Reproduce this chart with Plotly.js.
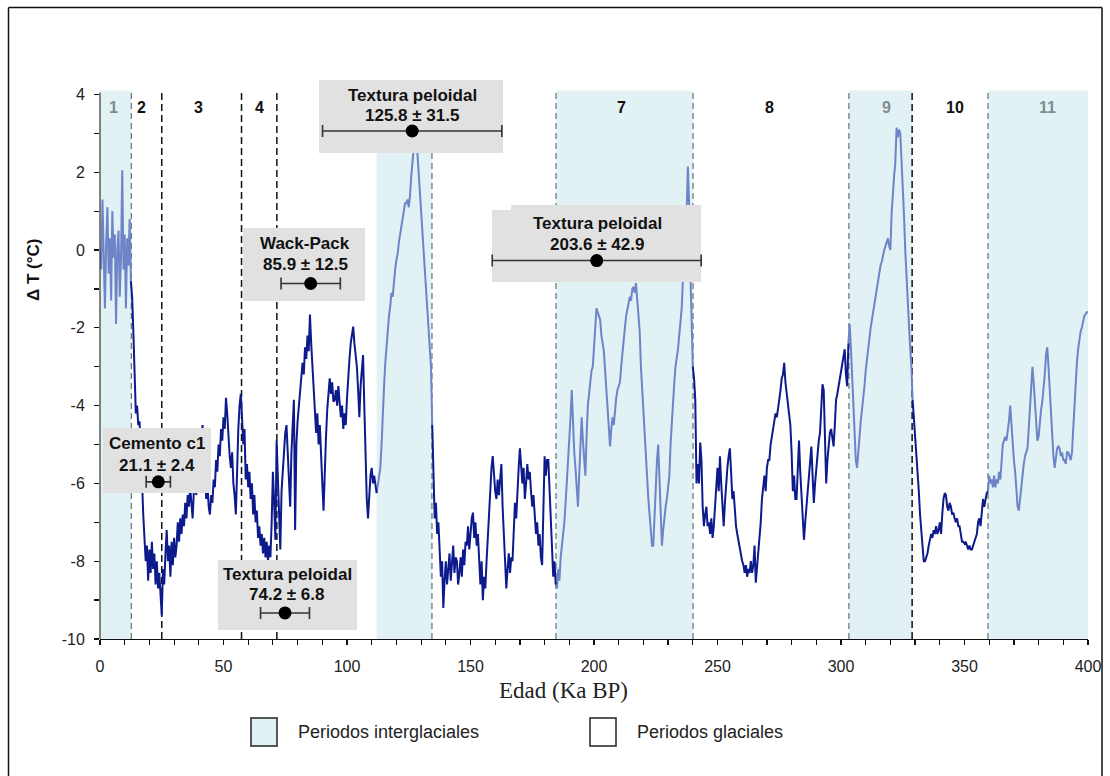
<!DOCTYPE html>
<html><head><meta charset="utf-8">
<script src="https://cdn.plot.ly/plotly-3.0.1.min.js"></script>
<style>html,body{margin:0;padding:0;background:#fff;}#chart{width:1110px;height:776px;}</style>
</head><body><div id="chart"></div>
<script>
// ---- Data ----
const ageKa = [
0,0.5,1,1.5,2,2.5,3,3.5,4,4.5,5,5.5,6,6.5,7,7.5,8,8.5,9,9.5,
10,10.5,11,11.5,12,12.5,13,13.5,14,14.5,15,15.5,16,16.5,17,17.5,18,18.5,19,19.5,
20,20.5,21,21.5,22,22.5,23,23.5,24,24.5,25,25.5,26,26.5,27,27.5,28,28.5,29,29.5,
30,30.5,31,31.5,32,32.5,33,33.5,34,34.5,35,35.5,36,36.5,37,37.5,38,38.5,39,39.5,
40,40.5,41,41.5,42,42.5,43,43.5,44,44.5,45,45.5,46,46.5,47,47.5,48,48.5,49,49.5,
50,50.5,51,51.5,52,52.5,53,53.5,54,54.5,55,55.5,56,56.5,57,57.5,58,58.5,59,59.5,
60,60.5,61,61.5,62,62.5,63,63.5,64,64.5,65,65.5,66,66.5,67,67.5,68,68.5,69,69.5,
70,70.5,71,71.5,72,72.5,73,73.5,74,74.5,75,75.5,76,76.5,77,77.5,78,78.5,79,79.5,
80,80.5,81,81.5,82,82.5,83,83.5,84,84.5,85,85.5,86,86.5,87,87.5,88,88.5,89,89.5,
90,90.5,91,91.5,92,92.5,93,93.5,94,94.5,95,95.5,96,96.5,97,97.5,98,98.5,99,99.5,
100,100.5,101,101.5,102,102.5,103,103.5,104,104.5,105,105.5,106,106.5,107,107.5,108,108.5,109,109.5,
110,110.5,111,111.5,112,112.5,113,113.5,114,114.5,115,115.5,116,116.5,117,117.5,118,118.5,119,119.5,
120,120.5,121,121.5,122,122.5,123,123.5,124,124.5,125,125.5,126,126.5,127,127.5,128,128.5,129,129.5,
130,130.5,131,131.5,132,132.5,133,133.5,134,134.5,135,135.5,136,136.5,137,137.5,138,138.5,139,139.5,
140,140.5,141,141.5,142,142.5,143,143.5,144,144.5,145,145.5,146,146.5,147,147.5,148,148.5,149,149.5,
150,150.5,151,151.5,152,152.5,153,153.5,154,154.5,155,155.5,156,156.5,157,157.5,158,158.5,159,159.5,
160,160.5,161,161.5,162,162.5,163,163.5,164,164.5,165,165.5,166,166.5,167,167.5,168,168.5,169,169.5,
170,170.5,171,171.5,172,172.5,173,173.5,174,174.5,175,175.5,176,176.5,177,177.5,178,178.5,179,179.5,
180,180.5,181,181.5,182,182.5,183,183.5,184,184.5,185,185.5,186,186.5,187,187.5,188,188.5,189,189.5,
190,190.5,191,191.5,192,192.5,193,193.5,194,194.5,195,195.5,196,196.5,197,197.5,198,198.5,199,199.5,
200,200.5,201,201.5,202,202.5,203,203.5,204,204.5,205,205.5,206,206.5,207,207.5,208,208.5,209,209.5,
210,210.5,211,211.5,212,212.5,213,213.5,214,214.5,215,215.5,216,216.5,217,217.5,218,218.5,219,219.5,
220,220.5,221,221.5,222,222.5,223,223.5,224,224.5,225,225.5,226,226.5,227,227.5,228,228.5,229,229.5,
230,230.5,231,231.5,232,232.5,233,233.5,234,234.5,235,235.5,236,236.5,237,237.5,238,238.5,239,239.5,
240,240.5,241,241.5,242,242.5,243,243.5,244,244.5,245,245.5,246,246.5,247,247.5,248,248.5,249,249.5,
250,250.5,251,251.5,252,252.5,253,253.5,254,254.5,255,255.5,256,256.5,257,257.5,258,258.5,259,259.5,
260,260.5,261,261.5,262,262.5,263,263.5,264,264.5,265,265.5,266,266.5,267,267.5,268,268.5,269,269.5,
270,270.5,271,271.5,272,272.5,273,273.5,274,274.5,275,275.5,276,276.5,277,277.5,278,278.5,279,279.5,
280,280.5,281,281.5,282,282.5,283,283.5,284,284.5,285,285.5,286,286.5,287,287.5,288,288.5,289,289.5,
290,290.5,291,291.5,292,292.5,293,293.5,294,294.5,295,295.5,296,296.5,297,297.5,298,298.5,299,299.5,
300,300.5,301,301.5,302,302.5,303,303.5,304,304.5,305,305.5,306,306.5,307,307.5,308,308.5,309,309.5,
310,310.5,311,311.5,312,312.5,313,313.5,314,314.5,315,315.5,316,316.5,317,317.5,318,318.5,319,319.5,
320,320.5,321,321.5,322,322.5,323,323.5,324,324.5,325,325.5,326,326.5,327,327.5,328,328.5,329,329.5,
330,330.5,331,331.5,332,332.5,333,333.5,334,334.5,335,335.5,336,336.5,337,337.5,338,338.5,339,339.5,
340,340.5,341,341.5,342,342.5,343,343.5,344,344.5,345,345.5,346,346.5,347,347.5,348,348.5,349,349.5,
350,350.5,351,351.5,352,352.5,353,353.5,354,354.5,355,355.5,356,356.5,357,357.5,358,358.5,359,359.5,
360,360.5,361,361.5,362,362.5,363,363.5,364,364.5,365,365.5,366,366.5,367,367.5,368,368.5,369,369.5,
370,370.5,371,371.5,372,372.5,373,373.5,374,374.5,375,375.5,376,376.5,377,377.5,378,378.5,379,379.5,
380,380.5,381,381.5,382,382.5,383,383.5,384,384.5,385,385.5,386,386.5,387,387.5,388,388.5,389,389.5,
390,390.5,391,391.5,392,392.5,393,393.5,394,394.5,395,395.5,396,396.5,397,397.5,398,398.5,399,399.5,
400];

const deltaT = [
0.0,-0.5,1.3,-0.3,-1.5,0.2,1.1,-0.6,0.3,-1.3,
1.0,-0.2,0.4,-1.9,0.0,0.5,-1.2,-0.2,2.05,-0.5,
0.4,-1.5,0.3,-0.4,0.8,-0.8,-1.2,-2.1,-3.0,-4.2,
-4.0,-4.5,-4.4,-5.0,-5.9,-6.8,-7.5,-8.0,-7.6,-8.5,
-7.7,-8.3,-7.5,-8.2,-7.8,-8.6,-8.0,-8.7,-8.3,-9.0,
-9.4,-8.2,-8.6,-7.8,-7.2,-8.0,-7.6,-8.4,-7.5,-8.1,
-7.4,-7.9,-7.6,-7.0,-7.5,-6.9,-7.3,-6.8,-7.1,-6.5,
-6.9,-6.3,-6.6,-6.1,-6.5,-6.9,-6.2,-5.8,-6.3,-5.3,
-5.8,-4.9,-5.4,-4.5,-5.0,-5.9,-6.4,-6.0,-6.6,-6.8,
-6.3,-6.5,-5.9,-6.1,-5.4,-5.7,-5.0,-5.3,-4.6,-4.9,
-4.3,-4.6,-3.8,-4.2,-4.8,-5.3,-5.6,-5.2,-6.0,-6.3,
-6.8,-5.5,-4.6,-4.0,-3.7,-4.3,-5.0,-4.6,-5.9,-5.5,
-6.1,-5.7,-6.4,-6.0,-6.8,-6.3,-7.0,-6.7,-7.4,-7.1,
-7.6,-7.3,-7.8,-7.4,-7.9,-7.5,-8.0,-7.6,-7.9,-7.0,
-5.7,-6.5,-7.45,-4.9,-6.0,-7.0,-7.7,-6.2,-5.65,-5.0,
-4.7,-4.5,-5.2,-6.0,-6.6,-5.2,-4.3,-3.85,-7.2,-5.0,
-4.4,-4.0,-3.7,-3.4,-2.9,-3.2,-2.5,-2.8,-2.2,-2.6,
-1.66,-2.4,-3.0,-3.6,-4.0,-4.7,-4.2,-5.0,-4.5,-5.5,
-6.0,-6.7,-5.6,-4.8,-4.1,-3.6,-3.3,-3.7,-3.4,-3.9,
-3.85,-3.6,-4.0,-3.5,-3.9,-4.3,-4.0,-4.6,-4.2,-4.5,
-3.8,-3.2,-2.8,-2.4,-2.2,-1.97,-2.4,-2.7,-3.0,-3.6,
-4.3,-3.5,-3.0,-2.7,-4.0,-5.5,-6.4,-6.9,-6.3,-5.8,
-5.6,-6.0,-5.8,-6.1,-6.25,-6.0,-5.7,-5.6,-5.0,-4.1,
-3.5,-2.9,-2.4,-2.0,-1.7,-1.45,-1.1,-1.2,-0.8,-0.5,
-0.25,-0.1,0.2,0.4,0.6,0.8,1.0,1.2,1.2,1.3,
1.1,1.4,1.9,2.4,2.6,2.9,2.8,2.5,2.0,1.5,
0.96,0.4,-0.2,-0.7,-1.2,-1.8,-2.3,-2.7,-3.0,-4.5,
-5.5,-6.9,-6.5,-7.3,-7.0,-7.8,-8.4,-8.0,-9.2,-8.5,
-8.0,-8.6,-8.2,-7.8,-8.5,-8.0,-7.6,-8.3,-7.9,-8.0,
-8.6,-8.3,-7.9,-8.4,-7.7,-8.1,-7.5,-7.6,-7.1,-7.7,
-7.2,-6.9,-6.75,-7.4,-7.0,-7.6,-7.3,-8.2,-8.6,-8.0,
-9.0,-8.4,-8.7,-8.0,-7.3,-6.6,-6.0,-5.6,-5.3,-5.9,
-6.2,-6.4,-5.9,-6.3,-5.8,-5.5,-6.6,-7.4,-8.1,-8.7,
-8.2,-7.8,-8.3,-7.9,-8.0,-7.2,-6.5,-6.9,-6.0,-5.6,
-5.1,-5.7,-6.0,-5.6,-6.4,-6.0,-5.5,-5.9,-5.7,-6.2,
-6.6,-6.3,-6.9,-7.3,-7.0,-7.6,-7.3,-7.9,-8.1,-6.5,
-5.3,-5.8,-5.4,-5.4,-6.2,-7.0,-7.9,-8.4,-8.0,-8.6,
-8.7,-8.2,-8.5,-7.9,-7.6,-7.45,-7.0,-6.5,-6.0,-5.4,
-4.7,-4.3,-3.6,-4.6,-5.2,-5.6,-6.0,-6.6,-5.8,-5.0,
-4.3,-4.9,-5.5,-5.8,-4.8,-4.0,-3.7,-3.4,-3.1,-3.0,
-2.6,-2.0,-1.5,-1.6,-1.7,-1.8,-2.2,-2.4,-2.6,-3.1,
-3.6,-4.2,-4.7,-5.05,-4.6,-4.3,-4.5,-4.1,-3.8,-3.6,
-3.5,-3.4,-3.0,-2.6,-2.3,-2.0,-1.7,-1.5,-1.4,-1.2,
-1.3,-1.0,-0.95,-1.1,-0.85,-1.3,-1.7,-2.1,-3.0,-3.6,
-4.3,-4.9,-5.5,-6.0,-6.4,-6.8,-7.2,-7.6,-7.6,-6.8,
-6.0,-5.4,-5.0,-5.8,-6.8,-7.6,-7.2,-6.8,-6.6,-6.4,
-6.0,-5.8,-5.0,-4.4,-3.85,-3.4,-3.0,-2.8,-2.55,-2.2,
-1.8,-1.5,-0.76,-0.2,0.4,0.96,2.15,1.2,-0.5,-1.8,
-3.0,-3.3,-3.85,-6.0,-5.5,-6.0,-4.95,-5.4,-6.6,-7.1,
-6.8,-6.6,-7.1,-7.0,-7.3,-6.9,-7.4,-7.1,-6.6,-6.0,
-5.6,-6.2,-5.3,-6.0,-6.6,-7.1,-6.5,-5.9,-5.6,-5.3,
-5.1,-5.7,-6.4,-6.2,-6.8,-7.1,-7.3,-7.5,-7.7,-7.9,
-8.0,-8.1,-8.3,-8.1,-8.4,-8.2,-8.3,-8.0,-8.3,-8.1,
-7.6,-8.55,-8.2,-7.8,-7.3,-7.0,-6.4,-6.0,-5.8,-6.2,
-5.6,-5.4,-5.4,-5.0,-4.8,-4.6,-4.45,-4.2,-4.3,-4.0,
-3.85,-3.6,-3.3,-3.2,-2.9,-3.4,-3.7,-3.9,-4.2,-4.5,
-5.2,-6.2,-5.8,-6.4,-6.4,-5.6,-4.9,-5.7,-6.4,-7.0,
-7.45,-7.0,-6.6,-6.25,-5.9,-5.5,-5.05,-5.8,-6.5,-6.0,
-5.6,-5.2,-4.9,-4.7,-4.2,-3.45,-3.6,-4.8,-6.0,-5.4,
-4.9,-4.7,-4.6,-4.9,-5.05,-4.5,-3.85,-3.7,-3.5,-3.3,
-3.15,-3.0,-2.8,-2.55,-3.2,-3.5,-2.4,-1.9,-2.5,-3.2,
-3.85,-4.6,-5.4,-5.6,-5.1,-4.7,-4.4,-4.1,-3.85,-3.5,
-3.1,-2.8,-2.5,-2.2,-2.0,-1.8,-1.6,-1.4,-1.2,-0.95,
-0.8,-0.6,-0.4,-0.3,-0.1,0.0,0.1,0.2,0.3,0.1,
0.0,0.96,1.5,1.9,2.25,3.15,2.9,3.1,3.0,2.4,
1.8,0.9,0.0,-0.76,-1.3,-1.9,-2.5,-3.0,-3.85,-4.3,
-4.95,-5.3,-5.6,-6.2,-6.8,-7.3,-7.7,-8.0,-8.0,-7.9,
-7.8,-7.6,-7.4,-7.3,-7.4,-7.2,-7.3,-7.1,-7.3,-7.2,
-7.0,-7.3,-6.8,-6.4,-6.25,-6.3,-6.6,-6.7,-6.5,-6.6,
-6.8,-6.75,-6.9,-7.0,-6.9,-7.1,-7.1,-7.3,-7.5,-7.5,
-7.55,-7.5,-7.6,-7.7,-7.6,-7.7,-7.7,-7.6,-7.5,-7.4,
-7.3,-7.0,-6.9,-7.1,-6.6,-6.4,-6.6,-6.4,-6.25,-6.2,
-5.8,-6.0,-5.9,-6.1,-5.8,-6.1,-5.9,-6.0,-5.7,-5.9,
-5.4,-5.0,-4.9,-4.8,-4.9,-4.7,-4.4,-4.0,-4.5,-5.0,
-5.4,-5.7,-6.2,-6.6,-6.7,-6.4,-6.0,-5.7,-5.5,-5.3,
-5.2,-5.1,-4.6,-4.0,-3.4,-3.0,-3.4,-4.0,-4.5,-4.9,
-4.8,-4.4,-4.1,-3.9,-3.6,-3.2,-2.7,-2.5,-3.0,-3.6,
-4.3,-4.9,-5.3,-5.6,-5.4,-5.1,-5.05,-5.1,-5.3,-5.2,
-5.4,-5.4,-5.5,-5.2,-5.2,-5.3,-5.4,-5.2,-4.6,-3.9,
-3.4,-2.9,-2.55,-2.3,-2.1,-2.0,-1.8,-1.7,-1.65,-1.6,
-1.6];

// interglacial periods (start, end) in ka BP
const interglacialStart = [0, 112, 184.6, 303.2, 359.5];
const interglacialEnd   = [12.7, 134.4, 240.1, 328.8, 400];

// dividers
const greyDividers  = [12.7, 134.4, 184.6, 240.1, 303.2, 359.5];
const blackDividers = [25, 57.3, 71.6, 328.8];

// stage numbers
const stageText = ['1','2','3','4','7','8','9','10','11'];
const stageAge  = [5.3, 17, 39.7, 64.4, 211, 270.9, 318.6, 346.2, 383.8];
const stageGrey = [true, false, false, false, false, false, true, false, true];

// dated samples
const sampleName = ['Cemento c1','Textura peloidal','Wack-Pack','Textura peloidal','Textura peloidal'];
const sampleAge  = [21.1, 74.2, 85.9, 125.8, 203.6];
const sampleErr  = [2.4, 6.8, 12.5, 31.5, 42.9];
// where the markers are drawn in the figure
const markerAge  = [23.6, 74.9, 85.3, 126.4, 201.1];
const markerErr  = [4.9, 9.9, 12.0, 36.3, 42.3];
const markerT    = [-5.96, -9.33, -0.86, 3.06, -0.27];

// ---- layout geometry ----
const L = 100, R = 1088, TOP = 75, BOT = 639;
const XMIN = 0, XMAX = 400, YMIN = -10, YMAX = 4.5;
const dx = px => XMIN + (px - L) / (R - L) * (XMAX - XMIN);
const dy = py => YMIN + (BOT - py) / (BOT - TOP) * (YMAX - YMIN);
const pxp = px => (px - L) / (R - L);
const pyp = py => (BOT - py) / (BOT - TOP);

const inIG = a => interglacialStart.some((s, k) => a >= s && a <= interglacialEnd[k]);

// split the record into interglacial / glacial coloured pieces
const segIG = [];
for (let i = 0; i < ageKa.length - 1; i++) segIG.push(inIG((ageKa[i] + ageKa[i+1]) / 2));
const yIG = [], yGL = [];
for (let i = 0; i < ageKa.length; i++) {
  const left = i > 0 ? segIG[i-1] : null;
  const right = i < segIG.length ? segIG[i] : null;
  yIG.push(left === true || right === true ? deltaT[i] : null);
  yGL.push(left === false || right === false ? deltaT[i] : null);
}

const traces = [
  {x: ageKa, y: yIG, mode: 'lines', line: {color: '#6d84c8', width: 2}, connectgaps: false, hoverinfo: 'skip'},
  {x: ageKa, y: yGL, mode: 'lines', line: {color: '#0c1a8c', width: 2}, connectgaps: false, hoverinfo: 'skip'}
];

// grey label boxes (pixel rectangles)
const boxes = [[103,211,428,493],[218,357,560,630],[243,365,228,301],[319,503,80,153],[492,701,210,282],[511,701,205,212]];
boxes.forEach(b => {
  traces.push({x: [dx(b[0]),dx(b[1]),dx(b[1]),dx(b[0]),dx(b[0])],
               y: [dy(b[2]),dy(b[2]),dy(b[3]),dy(b[3]),dy(b[2])],
               mode: 'lines', fill: 'toself', fillcolor: '#e1e1e1', line: {width: 0, color: '#e1e1e1'}, hoverinfo: 'skip'});
});

traces.push({x: markerAge, y: markerT, mode: 'markers', cliponaxis: false,
  marker: {color: '#000', size: 13},
  error_x: {type: 'data', array: markerErr, visible: true, color: '#333', thickness: 1.6, width: 6},
  hoverinfo: 'skip'});

const shapes = [];
interglacialStart.forEach((s, k) => shapes.push({type: 'rect', xref: 'x', yref: 'y', x0: s, x1: interglacialEnd[k], y0: -10, y1: 4.1,
  fillcolor: '#e2f1f4', line: {width: 0}, layer: 'below'}));
greyDividers.forEach(a => shapes.push({type: 'line', xref: 'x', yref: 'y', x0: a, x1: a, y0: -10, y1: 4.1,
  line: {color: '#6f7c80', width: 1.3, dash: '6px,4px'}, layer: 'below'}));
blackDividers.forEach(a => shapes.push({type: 'line', xref: 'x', yref: 'y', x0: a, x1: a, y0: -10, y1: 4.1,
  line: {color: '#111', width: 1.5, dash: '7px,4px'}, layer: 'below'}));
// y axis line (ends at 4)
shapes.push({type: 'line', xref: 'paper', yref: 'y', x0: 0, x1: 0, y0: -10, y1: 4.05, line: {color: '#333', width: 1.2}});
// outer frame (left, top, right edges; bottom lies below the picture)
shapes.push({type: 'line', xref: 'paper', yref: 'paper', x0: pxp(8.5), x1: pxp(8.5), y0: pyp(7.5), y1: pyp(780), line: {color: '#111', width: 1.5}});
shapes.push({type: 'line', xref: 'paper', yref: 'paper', x0: pxp(8.5), x1: pxp(1102), y0: pyp(7.5), y1: pyp(7.5), line: {color: '#111', width: 1.5}});
shapes.push({type: 'line', xref: 'paper', yref: 'paper', x0: pxp(1102), x1: pxp(1102), y0: pyp(7.5), y1: pyp(780), line: {color: '#111', width: 1.5}});
// legend swatches
shapes.push({type: 'rect', xref: 'paper', yref: 'paper', x0: pxp(251), x1: pxp(277), y0: pyp(746), y1: pyp(718), line: {color: '#222', width: 1.5}, fillcolor: '#e2f1f4'});
shapes.push({type: 'rect', xref: 'paper', yref: 'paper', x0: pxp(590), x1: pxp(616), y0: pyp(746), y1: pyp(718), line: {color: '#222', width: 1.5}, fillcolor: '#fff'});

const annotations = [];
stageText.forEach((t, k) => annotations.push({x: stageAge[k], y: dy(107), xref: 'x', yref: 'y', xanchor: 'center', yanchor: 'middle',
  text: '<b>' + t + '</b>', showarrow: false,
  font: {family: 'Liberation Sans, Arial, sans-serif', size: 16, color: stageGrey[k] ? '#7d8d8c' : '#111'}}));

const textPos = [[157, 443, 465], [287, 574, 594], [305, 243, 264], [412, 95, 115], [597, 223, 244]];
sampleName.forEach((n, k) => {
  const p = textPos[k];
  annotations.push({x: dx(p[0]), y: dy(p[1]), xref: 'x', yref: 'y', xanchor: 'center', yanchor: 'middle', text: '<b>' + n + '</b>', showarrow: false,
    font: {family: 'Liberation Sans, Arial, sans-serif', size: 17, color: '#111'}});
  annotations.push({x: dx(p[0]), y: dy(p[2]), xref: 'x', yref: 'y', xanchor: 'center', yanchor: 'middle',
    text: '<b>' + sampleAge[k].toFixed(1) + ' ± ' + sampleErr[k].toFixed(1) + '</b>', showarrow: false,
    font: {family: 'Liberation Sans, Arial, sans-serif', size: 17, color: '#111'}});
});

annotations.push({x: pxp(563), y: pyp(690), xref: 'paper', yref: 'paper', xanchor: 'center', yanchor: 'middle', text: 'Edad (Ka BP)', showarrow: false,
  font: {family: 'Liberation Serif, Times New Roman, serif', size: 23, color: '#222'}});
annotations.push({x: pxp(33), y: pyp(270), xref: 'paper', yref: 'paper', xanchor: 'center', yanchor: 'middle', text: '<b>Δ T (°C)</b>', showarrow: false, textangle: -90,
  font: {family: 'Liberation Sans, Arial, sans-serif', size: 17, color: '#111'}});
annotations.push({x: pxp(296), y: pyp(732), xref: 'paper', yref: 'paper', xanchor: 'left', yanchor: 'middle', text: 'Periodos interglaciales', showarrow: false,
  font: {family: 'Liberation Sans, Arial, sans-serif', size: 18, color: '#222'}});
annotations.push({x: pxp(635), y: pyp(732), xref: 'paper', yref: 'paper', xanchor: 'left', yanchor: 'middle', text: 'Periodos glaciales', showarrow: false,
  font: {family: 'Liberation Sans, Arial, sans-serif', size: 18, color: '#222'}});

const yTickVals = [-10, -8, -6, -4, -2, 0, 2, 4];
const yTickText = ['-10', '-8', '-6', '-4', '-2', '0', '2', '4'];

const layout = {
  width: 1110, height: 776,
  margin: {l: L, r: 1110 - R, t: TOP, b: 776 - BOT, pad: 0},
  paper_bgcolor: '#fff', plot_bgcolor: '#fff',
  showlegend: false,
  xaxis: {range: [XMIN, XMAX], showgrid: false, zeroline: false, showline: true, linecolor: '#111', linewidth: 1.2,
    ticks: 'outside', ticklen: 5, tickcolor: '#111', tickwidth: 1.2, dtick: 50, tick0: 0, ticklabelstandoff: 8,
    minor: {dtick: 10, tick0: 0, ticks: 'outside', ticklen: 5, tickcolor: '#111', tickwidth: 1.2},
    tickfont: {family: 'Liberation Sans, Arial, sans-serif', size: 16, color: '#222'}},
  yaxis: {range: [YMIN, YMAX], showgrid: false, zeroline: false, showline: false,
    ticks: 'outside', ticklen: 5, tickcolor: '#111', tickwidth: 1.2, tickmode: 'array', tickvals: yTickVals, ticktext: yTickText, ticklabelstandoff: 6,
    minor: {tickmode: 'linear', dtick: 1, tick0: -10, ticks: 'outside', ticklen: 5, tickcolor: '#111', tickwidth: 1.2},
    tickfont: {family: 'Liberation Sans, Arial, sans-serif', size: 16, color: '#222'}},
  shapes: shapes,
  annotations: annotations
};

Plotly.newPlot('chart', traces, layout, {displayModeBar: false, staticPlot: true});
</script>
</body></html>
